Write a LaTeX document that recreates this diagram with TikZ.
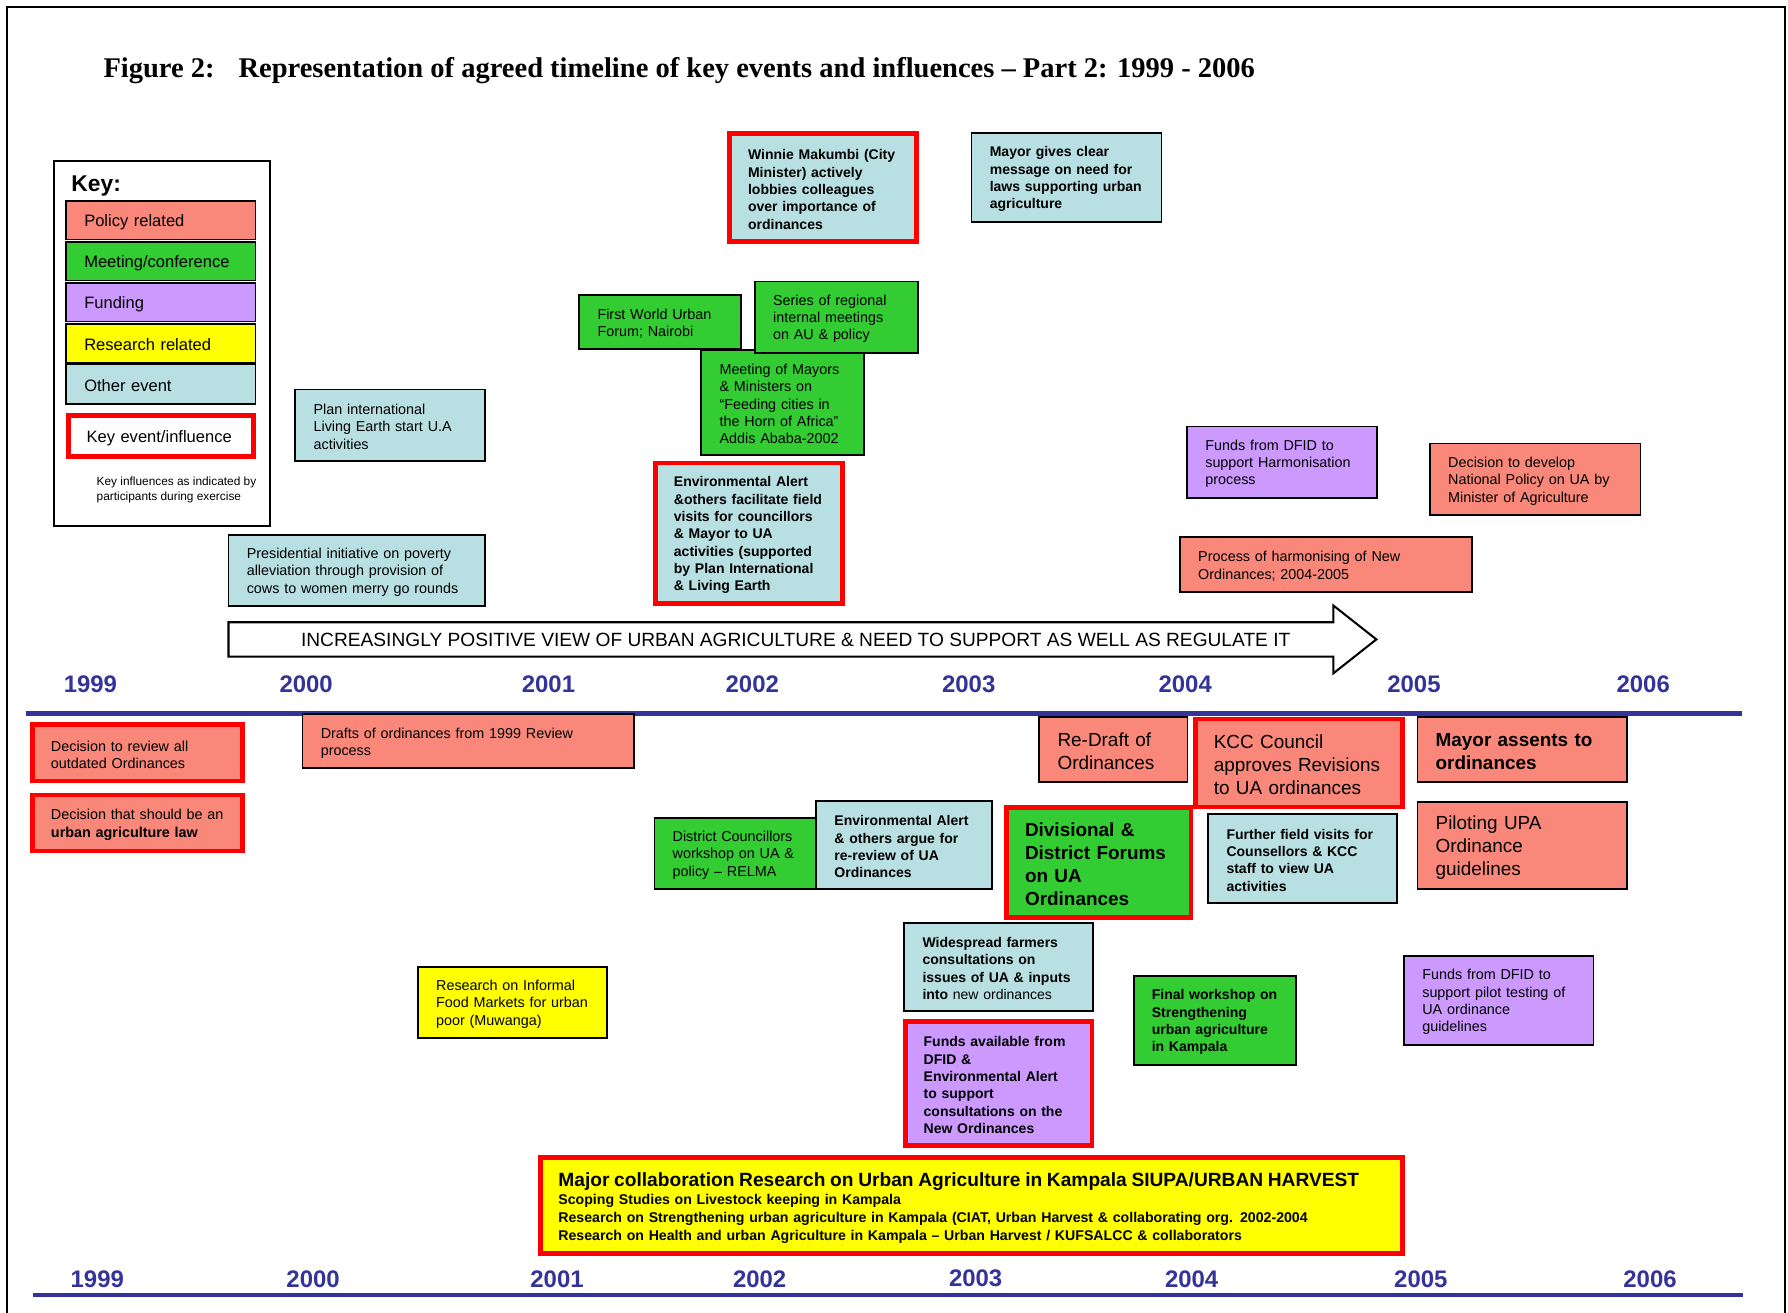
\documentclass[tikz,border=0pt]{standalone}
\usepackage{fontspec}
\setmainfont{Liberation Sans}
\newfontfamily\serifbold{Liberation Serif}
\definecolor{cpolicy}{RGB}{250,136,122}
\definecolor{cmeeting}{RGB}{51,204,51}
\definecolor{cfunding}{RGB}{204,153,255}
\definecolor{cresearch}{RGB}{255,255,0}
\definecolor{cother}{RGB}{184,223,226}
\definecolor{ckeyred}{RGB}{255,0,0}
\definecolor{cyear}{RGB}{51,51,153}
\newcommand\fsmall{\fontsize{12.6}{15.2}\selectfont}
\newcommand\fbold{\fontsize{12.3}{15.2}\selectfont\bfseries}
\newcommand\flarge{\fontsize{16.6}{20.2}\selectfont}
\newcommand\fkey{\fontsize{14.5}{17}\selectfont}
\newcommand\fyear{\fontsize{21}{21}\selectfont\bfseries}
\tikzset{
  ev/.style 2 args={anchor=north west, minimum width=#1, minimum height=#2,
    text width=#1, inner xsep=0pt, inner ysep=0pt, outer sep=0pt, align=left,
    draw=black, line width=1.6pt, font=\fsmall,
    execute at begin node={\leftskip=16pt\relax\rule{0pt}{\dimexpr0.73em+3pt\relax}}},
  kev/.style={draw=ckeyred, line width=4.2pt},
  pol/.style={fill=cpolicy},
  mtg/.style={fill=cmeeting},
  fund/.style={fill=cfunding},
  res/.style={fill=cresearch},
  oth/.style={fill=cother},
  bld/.style={font=\fbold},
  lrg/.style={font=\flarge},
  lrgb/.style={font=\flarge\bfseries},
  keyitem/.style={font=\fkey},
  yr/.style={font=\fyear, text=cyear, inner sep=0pt},
  axis/.style={draw=cyear, line width=4.2pt},
  frame/.style={draw=black, line width=1.6pt},
}
\begin{document}
\begin{tikzpicture}[x=1pt,y=-1pt]
\useasboundingbox (0,0) rectangle (1568,1151);
% frame
\coordinate (f1) at (6,1151);
\coordinate (f2) at (6,6.5);
\coordinate (f3) at (1565.5,6.5);
\coordinate (f4) at (1565.5,1151);
\draw[frame] (f1) -- (f2) -- (f3) -- (f4);
% title
\node[anchor=base west, inner sep=0pt, font=\serifbold\bfseries\fontsize{25}{25}\selectfont] (figno) at (90.6,68.3) {Figure 2:};
\node[anchor=base west, inner sep=0pt, font=\serifbold\bfseries\fontsize{25}{25}\selectfont] (title) at (209,68.3) {Representation of agreed timeline of key events and influences – Part 2: 1999 - 2006};
% key
\node[draw=black, line width=1.8pt, fill=white, anchor=north west, minimum width=189.3, minimum height=320.1, inner sep=0pt] (keybox) at (46.3,140.3) {};
\node[anchor=west, inner sep=0pt, font=\fontsize{20}{20}\selectfont\bfseries] (keytitle) at (62.5,163) {Key:};
\node[ev={166.1}{33.7}, pol, keyitem] (k1) at (57.9,176.3) {Policy related};
\node[ev={166.1}{34}, mtg, keyitem] (k2) at (57.9,212) {Meeting/conference};
\node[ev={166.1}{34}, fund, keyitem] (k3) at (57.9,248) {Funding};
\node[ev={166.1}{34}, res, keyitem] (k4) at (57.9,284) {Research related};
\node[ev={166.1}{34.5}, oth, keyitem] (k5) at (57.9,319.5) {Other event};
\node[ev={162.1}{35.8}, kev, fill=white, keyitem] (k6) at (59.9,364.7) {Key event/influence};
\node[anchor=west, align=left, inner sep=0pt, font=\fontsize{10.4}{13}\selectfont] (keynote) at (84.6,429.5) {Key influences as indicated by\\participants during exercise};
% upper events
\node[ev={166.5}{62.5}, oth] (plan) at (259,341.5) {Plan international\\Living Earth start U.A\\activities};
\node[ev={225}{62.4}, oth] (pres) at (200.4,469) {Presidential initiative on poverty\\alleviation through provision of\\cows to women merry go rounds};
\node[ev={164}{95}, oth, kev, bld] (winnie) at (640,117) {Winnie Makumbi (City\\Minister) actively\\lobbies colleagues\\over importance of\\ordinances};
\node[ev={166.5}{78.2}, oth, bld] (mayorgives) at (852,116.5) {Mayor gives clear\\message on need for\\laws supporting urban\\agriculture};
\node[ev={142}{47.3}, mtg] (firstworld) at (508,258.7) {First World Urban\\Forum; Nairobi};
\node[ev={142.6}{91.7}, mtg] (mayors) at (615,307) {Meeting of Mayors\\\& Ministers on\\“Feeding cities in\\the Horn of Africa”\\Addis Ababa-2002};
\node[ev={143}{62.6}, mtg] (series) at (662,246.8) {Series of regional\\internal meetings\\on AU \& policy};
\node[ev={164}{123.4}, oth, kev, bld] (eaup) at (575,406) {Environmental Alert\\\&others facilitate field\\visits for councillors\\\& Mayor to UA\\activities (supported\\by Plan International\\\& Living Earth};
\node[ev={166.5}{62.5}, fund] (fundsharm) at (1041,374) {Funds from DFID to\\support Harmonisation\\process};
\node[ev={184.6}{62.5}, pol] (decnat) at (1254,389) {Decision to develop\\National Policy on UA by\\Minister of Agriculture};
\node[ev={255.9}{47.8}, pol] (procharm) at (1034.8,471.2) {Process of harmonising of New\\Ordinances; 2004-2005};
% trend arrow
\coordinate (a1) at (200.4,545.7);
\coordinate (a2) at (1169.3,545.7);
\coordinate (a3) at (1169.3,531);
\coordinate (a4) at (1207,560.7);
\coordinate (a5) at (1169.3,590.5);
\coordinate (a6) at (1169.3,575.8);
\coordinate (a7) at (200.4,575.8);
\draw[line width=1.8pt, fill=white, line join=miter] (a1) -- (a2) -- (a3) -- (a4) -- (a5) -- (a6) -- (a7) -- cycle;
\node[inner sep=0pt, font=\fontsize{16.8}{17}\selectfont] (trend) at (697.8,561.5) {INCREASINGLY POSITIVE VIEW OF URBAN AGRICULTURE \& NEED TO SUPPORT AS WELL AS REGULATE IT};
% top years and axis
\foreach \x/\yr in {79.3/1999, 268.5/2000, 481/2001, 659.7/2002, 849.5/2003, 1039.4/2004, 1240/2005, 1441/2006}
  \node[yr] (top\yr) at (\x,600.3) {\yr};
\coordinate (ax1) at (22.7,625.7);
\coordinate (ax2) at (1527.4,625.7);
\draw[axis] (ax1) -- (ax2);
% lower events
\node[ev={183.7}{49.5}, pol, kev] (decrev) at (28.7,635.4) {Decision to review all\\outdated Ordinances};
\node[ev={183.7}{49.2}, pol, kev] (declaw) at (28.7,697.1) {Decision that should be an\\\textbf{urban agriculture law}};
\node[ev={290.5}{47.4}, pol] (drafts) at (265.3,626.4) {Drafts of ordinances from 1999 Review\\process};
\node[ev={130}{57}, pol, lrg] (redraft) at (911.4,628.5) {Re-Draft of\\Ordinances};
\node[ev={181.4}{77.2}, pol, kev, lrg] (kcc) at (1048.5,630.5) {KCC Council\\approves Revisions\\to UA ordinances};
\node[ev={183.8}{57}, pol, lrgb] (mayorass) at (1243,628.5) {Mayor assents to\\ordinances};
\node[ev={183.8}{76.9}, pol, lrg] (piloting) at (1243,703) {Piloting UPA\\Ordinance\\guidelines};
\node[ev={141.9}{62.8}, mtg] (distc) at (573.9,717.1) {District Councillors\\workshop on UA \&\\policy -- RELMA};
\node[ev={153.9}{77.7}, oth, bld] (eaargue) at (715.8,702.2) {Environmental Alert\\\& others argue for\\re-review of UA\\Ordinances};
\node[ev={161.6}{96.8}, mtg, kev, lrgb] (divis) at (882.9,708) {Divisional \&\\District Forums\\on UA\\Ordinances};
\node[ev={165.6}{77.5}, oth, bld] (further) at (1059.6,714.1) {Further field visits for\\Counsellors \& KCC\\staff to view UA\\activities};
\node[ev={165.5}{62.9}, res] (resinf) at (366.5,847.7) {Research on Informal\\Food Markets for urban\\poor (Muwanga)};
\node[ev={165.6}{77.1}, oth, bld] (widesp) at (793,809.2) {Widespread farmers\\consultations on\\issues of UA \& inputs\\into {\mdseries new ordinances}};
\node[ev={163.7}{108.9}, fund, kev, bld] (fundsavail) at (794,895.6) {Funds available from\\DFID \&\\Environmental Alert\\to support\\consultations on the\\New Ordinances};
\node[ev={142.3}{78.1}, mtg, bld] (finalws) at (994.1,855.9) {Final workshop on\\Strengthening\\urban agriculture\\in Kampala};
\node[ev={166.1}{78}, fund] (fundspilot) at (1231.3,838.4) {Funds from DFID to\\support pilot testing of\\UA ordinance\\guidelines};
\node[ev={756.2}{84.6}, res, kev, font=\fontsize{12.4}{15.4}\selectfont\bfseries] (major) at (473.7,1014.9) {{\fontsize{16.8}{18}\selectfont\rule{0pt}{\dimexpr0.73em+4pt\relax}Major collaboration Research on Urban Agriculture in Kampala SIUPA/URBAN HARVEST}\\[0.6pt]Scoping Studies on Livestock keeping in Kampala\\Research on Strengthening urban agriculture in Kampala (CIAT, Urban Harvest \& collaborating org. 2002-2004\\Research on Health and urban Agriculture in Kampala -- Urban Harvest / KUFSALCC \& collaborators};
% bottom years and axis
\foreach \x/\yr in {85.3/1999, 274.6/2000, 488.5/2001, 666.2/2002, 855.6/2003, 1045/2004, 1246/2005, 1447/2006}
  \node[yr] (bot\yr) at (\x,1121.4) {\yr};
\coordinate (bx1) at (28.7,1135.3);
\coordinate (bx2) at (1528.4,1135.3);
\draw[axis, line width=3.6pt] (bx1) -- (bx2);
\end{tikzpicture}
\end{document}
